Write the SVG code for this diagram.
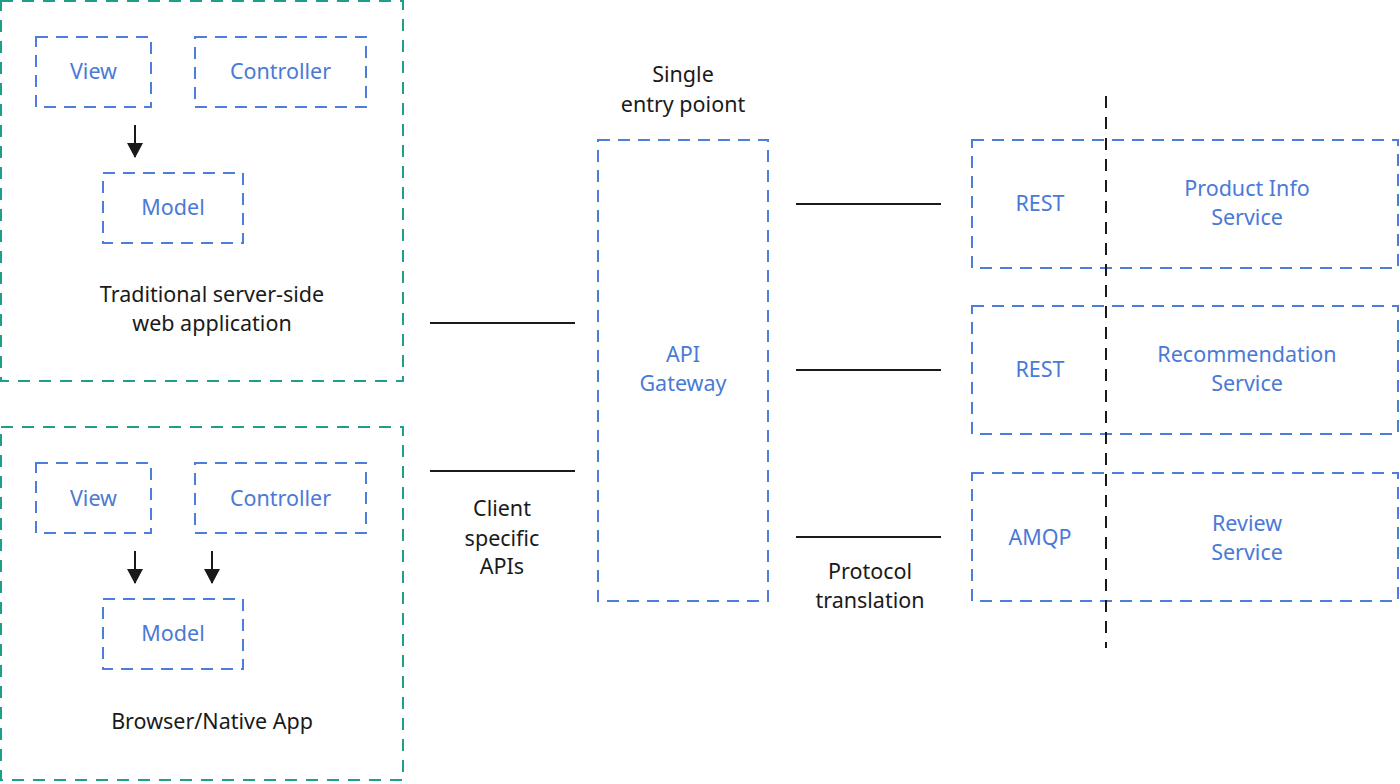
<svg xmlns="http://www.w3.org/2000/svg" width="1400" height="784" viewBox="0 0 1400 784">
<defs>
<style>
.outer{fill:none;stroke:#1f9e89;stroke-width:2;stroke-dasharray:12 9}
.box{fill:none;stroke:#4f7ddb;stroke-width:2;stroke-dasharray:12 8}
.bt{font-family:"Noto Sans","Open Sans",sans-serif;font-size:21.5px;fill:#4a7ad6;text-anchor:middle}
.kt{font-family:"Noto Sans","Open Sans",sans-serif;font-size:21.5px;fill:#1a1a1a;text-anchor:middle}
.ln{stroke:#1a1a1a;stroke-width:2;fill:none}
</style>
<marker id="arr" viewBox="0 0 16 16" markerWidth="16" markerHeight="16" refX="14" refY="8" orient="auto" markerUnits="userSpaceOnUse">
<path d="M0,0 L15,8 L0,16 Z" fill="#1a1a1a"/>
</marker>
</defs>
<rect width="1400" height="784" fill="#ffffff"/>

<g id="server-app">
<rect class="outer" x="1" y="1" width="402" height="380"/>
<text class="kt" x="212" y="302">Traditional server-side</text>
<text class="kt" x="212" y="331">web application</text>
</g>
<g id="server-view"><rect class="box" x="36" y="37" width="115" height="70"/><text class="bt" x="93.5" y="79">View</text></g>
<g id="server-controller"><rect class="box" x="195" y="37" width="171" height="70"/><text class="bt" x="280.5" y="79">Controller</text></g>
<g id="server-model"><rect class="box" x="103" y="173" width="140" height="70"/><text class="bt" x="173" y="215">Model</text></g>

<g id="browser-app">
<rect class="outer" x="1" y="427" width="402" height="353"/>
<text class="kt" x="212" y="729">Browser/Native App</text>
</g>
<g id="browser-view"><rect class="box" x="36" y="463" width="115" height="70"/><text class="bt" x="93.5" y="506">View</text></g>
<g id="browser-controller"><rect class="box" x="195" y="463" width="171" height="70"/><text class="bt" x="280.5" y="506">Controller</text></g>
<g id="browser-model"><rect class="box" x="103" y="599" width="140" height="70"/><text class="bt" x="173" y="641">Model</text></g>

<g id="api-gateway">
<rect class="box" x="598" y="140" width="170" height="461"/>
<text class="bt" x="683" y="362">API</text>
<text class="bt" x="683" y="391">Gateway</text>
</g>
<g id="gateway-label">
<text class="kt" x="683" y="82">Single</text>
<text class="kt" x="683" y="112">entry poiont</text>
</g>
<g id="client-label">
<text class="kt" x="502" y="516">Client</text>
<text class="kt" x="502" y="546">specific</text>
<text class="kt" x="502" y="574">APIs</text>
</g>
<g id="protocol-label">
<text class="kt" x="870" y="579">Protocol</text>
<text class="kt" x="870" y="608">translation</text>
</g>

<g id="product-service">
<rect class="box" x="972" y="140" width="426" height="128"/>
<text class="bt" x="1040" y="211">REST</text>
<text class="bt" x="1247" y="196">Product Info</text>
<text class="bt" x="1247" y="225">Service</text>
</g>
<g id="recommendation-service">
<rect class="box" x="972" y="306" width="426" height="128"/>
<text class="bt" x="1040" y="377">REST</text>
<text class="bt" x="1247" y="362">Recommendation</text>
<text class="bt" x="1247" y="391">Service</text>
</g>
<g id="review-service">
<rect class="box" x="972" y="473" width="426" height="128"/>
<text class="bt" x="1040" y="545">AMQP</text>
<text class="bt" x="1247" y="531">Review</text>
<text class="bt" x="1247" y="560">Service</text>
</g>

<g id="connectors">
<line class="ln" x1="135" y1="125" x2="135" y2="157" marker-end="url(#arr)"/>
<line class="ln" x1="135" y1="551" x2="135" y2="583" marker-end="url(#arr)"/>
<line class="ln" x1="212" y1="551" x2="212" y2="583" marker-end="url(#arr)"/>
<line class="ln" x1="430" y1="323" x2="575" y2="323"/>
<line class="ln" x1="430" y1="471" x2="575" y2="471"/>
<line class="ln" x1="796" y1="204" x2="941" y2="204"/>
<line class="ln" x1="796" y1="370" x2="941" y2="370"/>
<line class="ln" x1="796" y1="537" x2="941" y2="537"/>
<line class="ln" x1="1106" y1="96" x2="1106" y2="648" stroke-dasharray="12 9"/>
</g>
</svg>
